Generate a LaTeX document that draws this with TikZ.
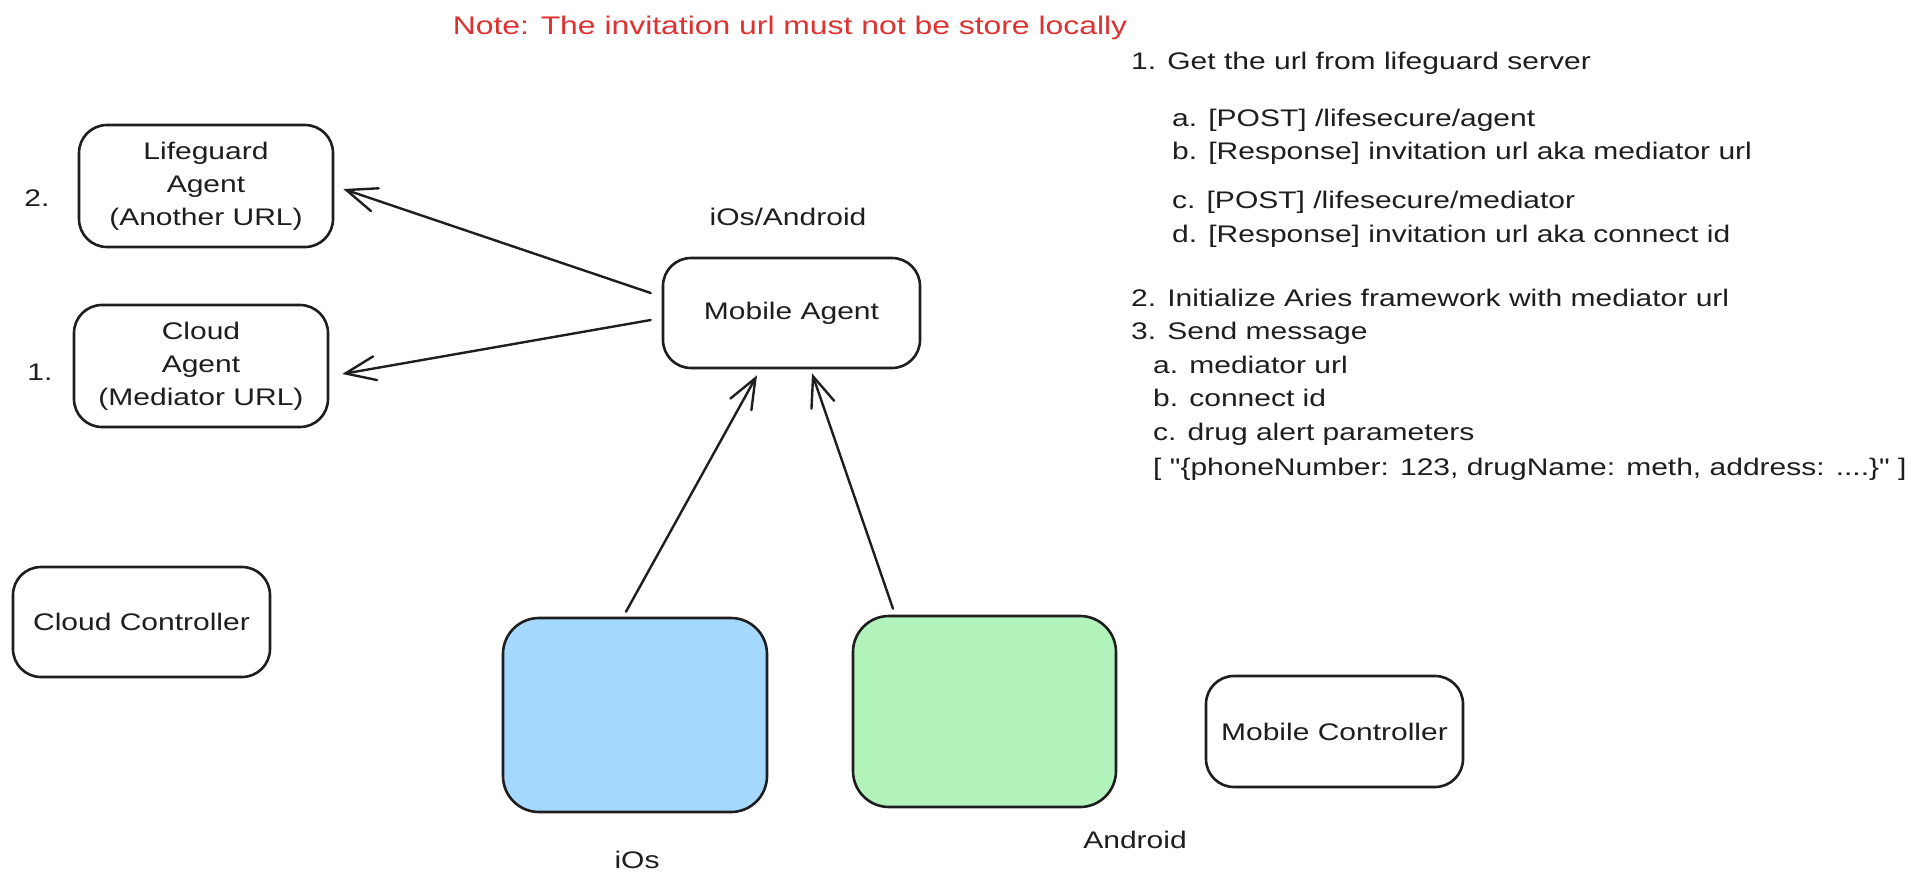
\documentclass[tikz,border=0pt]{standalone}
\usepackage{fontspec}
\newfontfamily\handfam{Liberation Sans}[FakeStretch=1.25]
\usetikzlibrary{arrows.meta,calc}
\definecolor{ink}{HTML}{1E1E1E}
\definecolor{noteRed}{HTML}{E03131}
\definecolor{iosBlue}{HTML}{A5D8FF}
\definecolor{andGreen}{HTML}{B2F2BB}
\newcommand\handfont{\handfam\fontsize{24}{33}\selectfont}
\newcommand\notefont{\handfam\fontsize{25.5}{33}\selectfont}
\begin{document}
\begin{tikzpicture}[x=1pt,y=-1pt,
  box/.style={draw=ink, line width=2.6pt, rounded corners=28pt, align=center, inner sep=0pt, font=\handfont, text=ink},
  bigbox/.style={box, rounded corners=36pt},
  lbl/.style={font=\handfont, text=ink, inner sep=0pt},
  txt/.style={font=\handfont, text=ink, inner sep=0pt, anchor=base west},
  arr/.style={draw=ink, line width=2.4pt, line cap=round, line join=round, -{Straight Barb[length=30pt,width=24pt,line cap=round]}}
]
\useasboundingbox[fill=white] (0,0) rectangle (1920,892);

% note
\node[lbl, font=\notefont, text=noteRed] (note) at (790,28) {Note: The invitation url must not be store locally};

% boxes
\node[box, minimum width=254pt, minimum height=122pt] (lg) at (206,186) {Lifeguard\\Agent\\(Another URL)};
\node[box, minimum width=254pt, minimum height=122pt] (ca) at (201,366) {Cloud\\Agent\\(Mediator URL)};
\node[box, minimum width=257pt, minimum height=110pt] (ma) at (791.5,313) {Mobile Agent};
\node[box, minimum width=257pt, minimum height=110pt] (cc) at (141.5,622) {Cloud Controller};
\node[bigbox, fill=iosBlue, minimum width=264pt, minimum height=194pt] (ios) at (635,715) {};
\node[bigbox, fill=andGreen, minimum width=263pt, minimum height=191pt] (and) at (984.5,711.5) {};
\node[box, minimum width=257pt, minimum height=111pt] (mc) at (1334.5,731.5) {Mobile Controller};

% labels
\node[lbl] (n2) at (37,198) {2.};
\node[lbl] (n1) at (40,372) {1.};
\node[lbl] (platf) at (788,217) {iOs/Android};
\node[lbl] (iosl) at (637,860) {iOs};
\node[lbl] (andl) at (1135,840) {Android};

% arrows
\draw[arr] ($(ma.west)+(-11,-20)$) -- ($(lg.east)+(9,3)$);
\draw[arr] ($(ma.west)+(-11,7)$) -- ($(ca.east)+(13,8)$);
\draw[arr] ($(ios.north)+(-9,-5)$) -- ($(ma.south)+(-34.5,6)$);
\draw[arr] ($(and.north)+(-91.5,-6)$) -- ($(ma.south)+(20.5,4)$);

% right-hand text
\node[txt] (t1) at (1131,69) {1. Get the url from lifeguard server};
\node[txt] (t1a) at (1172,126) {a. [POST] /lifesecure/agent};
\node[txt] (t1b) at (1172,159) {b. [Response] invitation url aka mediator url};
\node[txt] (t1c) at (1172,208) {c. [POST] /lifesecure/mediator};
\node[txt] (t1d) at (1172,242) {d. [Response] invitation url aka connect id};
\node[txt] (t2) at (1131,306) {2. Initialize Aries framework with mediator url};
\node[txt] (t3) at (1131,339) {3. Send message};
\node[txt] (t3a) at (1153,373) {a. mediator url};
\node[txt] (t3b) at (1153,406) {b. connect id};
\node[txt] (t3c) at (1153,440) {c. drug alert parameters};
\node[txt] (t3d) at (1153,475) {[ "\{phoneNumber: 123, drugName: meth, address: ....\}" ]};
\end{tikzpicture}
\end{document}
